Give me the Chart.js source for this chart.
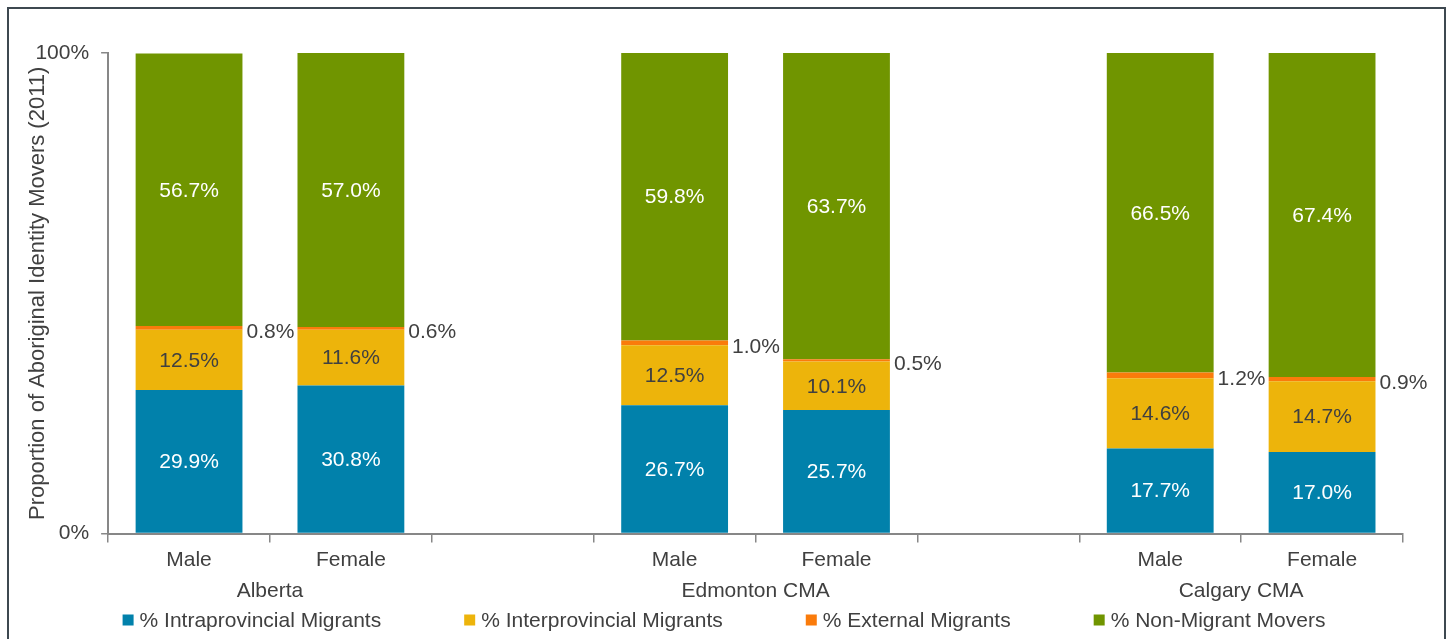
<!DOCTYPE html>
<html>
<head>
<meta charset="utf-8">
<script src="https://cdn.jsdelivr.net/npm/chart.js@4.4.0/dist/chart.umd.min.js"></script>
<style>
  body { margin: 0; background: #fff; }
  #wrap { position: relative; width: 1448px; height: 639px; overflow: hidden; }
  #frame { position: absolute; left: 7px; top: 7px; width: 1435px; height: 700px; border: 2px solid #3d4850; }
  #chart { position: absolute; left: 0; top: 0; }
</style>
</head>
<body>
<div id="wrap">
  <div id="frame"></div>
  <canvas id="chart" width="1448" height="639"></canvas>
</div>
<script>
// categories (empty slots separate the three regions)
const categories = ["Male", "Female", "", "Male", "Female", "", "Male", "Female"];
// region names sit on the slot boundaries (9 boundaries for 8 slots)
const groupLabels = ["", "Alberta", "", "", "Edmonton CMA", "", "", "Calgary CMA", ""];
const yTicks = [0, 100];

// series values (%)
const intraprovincial = [29.9, 30.8, null, 26.7, 25.7, null, 17.7, 17.0];
const interprovincial = [12.5, 11.6, null, 12.5, 10.1, null, 14.6, 14.7];
const external = [0.8, 0.6, null, 1.0, 0.5, null, 1.2, 0.9];
const nonMigrant = [56.7, 57.0, null, 59.8, 63.7, null, 66.5, 67.4];

const FONT = "'Liberation Sans', Arial, sans-serif";
const TEXT = "#404040";
const AXIS = "#878787";

// value labels on the bars
const barLabels = {
  id: "barLabels",
  afterDatasetsDraw(chart) {
    const ctx = chart.ctx;
    ctx.save();
    ctx.font = "21px " + FONT;
    ctx.textBaseline = "middle";
    chart.data.datasets.forEach((ds, i) => {
      chart.getDatasetMeta(i).data.forEach((bar, j) => {
        const v = ds.data[j];
        if (v == null) return;
        const text = v.toFixed(1) + "%";
        const mid = (bar.y + bar.base) / 2;
        if (ds.labelOutside) {
          ctx.fillStyle = TEXT;
          ctx.textAlign = "left";
          ctx.fillText(text, bar.x + bar.width / 2 + 4, mid + 4);
        } else {
          ctx.fillStyle = ds.labelColor;
          ctx.textAlign = "center";
          ctx.fillText(text, bar.x, mid + 1);
        }
      });
    });
    ctx.restore();
  }
};

// legend row along the bottom
const bottomLegend = {
  id: "bottomLegend",
  afterDraw(chart) {
    const ctx = chart.ctx;
    const box = 11, gap = 6, spacing = 83;
    ctx.save();
    ctx.font = "21px " + FONT;
    ctx.textBaseline = "middle";
    ctx.textAlign = "left";
    const items = chart.data.datasets.map(ds => ({
      text: ds.label, color: ds.backgroundColor,
      w: box + gap + ctx.measureText(ds.label).width
    }));
    const total = items.reduce((s, it) => s + it.w, 0) + spacing * (items.length - 1);
    let x = (chart.width - total) / 2;
    const y = 620;
    items.forEach(it => {
      ctx.fillStyle = it.color;
      ctx.fillRect(x, y - box / 2, box, box);
      ctx.fillStyle = TEXT;
      ctx.fillText(it.text, x + box + gap, y + 1);
      x += it.w + spacing;
    });
    ctx.restore();
  }
};

new Chart(document.getElementById("chart"), {
  type: "bar",
  data: {
    labels: categories,
    datasets: [
      { label: "% Intraprovincial Migrants", data: intraprovincial, backgroundColor: "#0181ab", labelColor: "#ffffff" },
      { label: "% Interprovincial Migrants", data: interprovincial, backgroundColor: "#edb40b", labelColor: TEXT },
      { label: "% External Migrants", data: external, backgroundColor: "#fa7b0b", labelOutside: true },
      { label: "% Non-Migrant Movers", data: nonMigrant, backgroundColor: "#709500", labelColor: "#ffffff" },
    ],
  },
  options: {
    responsive: false,
    animation: false,
    events: [],
    layout: { padding: { top: 53, left: 12, right: 45, bottom: 34 } },
    datasets: { bar: { categoryPercentage: 1, barPercentage: 0.66, borderWidth: 0 } },
    plugins: { legend: { display: false }, tooltip: { enabled: false } },
    scales: {
      x: {
        stacked: true,
        weight: 0,
        grid: { offset: true, drawOnChartArea: false, tickLength: 9, color: AXIS, lineWidth: 1.5 },
        border: { color: AXIS, width: 2 },
        ticks: { color: TEXT, font: { family: FONT, size: 21 }, padding: 5, autoSkip: false, maxRotation: 0 },
      },
      x2: {
        type: "category",
        labels: groupLabels,
        position: "bottom",
        weight: 1,
        offset: false,
        grid: { display: false, drawTicks: false },
        border: { display: false },
        ticks: { color: TEXT, font: { family: FONT, size: 21 }, padding: 1, autoSkip: false, maxRotation: 0 },
      },
      y: {
        stacked: true,
        min: 0,
        max: 100,
        afterBuildTicks: (axis) => { axis.ticks = yTicks.map(v => ({ value: v })); },
        grid: { drawOnChartArea: false, tickLength: 7, color: AXIS, lineWidth: 1.5 },
        border: { color: AXIS, width: 2 },
        ticks: { color: TEXT, font: { family: FONT, size: 21 }, padding: 12, callback: (v) => v + "%" },
        title: {
          display: true,
          text: "Proportion of Aboriginal Identity Movers (2011)",
          color: TEXT,
          font: { family: FONT, size: 22 },
          padding: { top: 13, bottom: -28 },
        },
      },
    },
  },
  plugins: [barLabels, bottomLegend],
});
</script>
</body>
</html>
